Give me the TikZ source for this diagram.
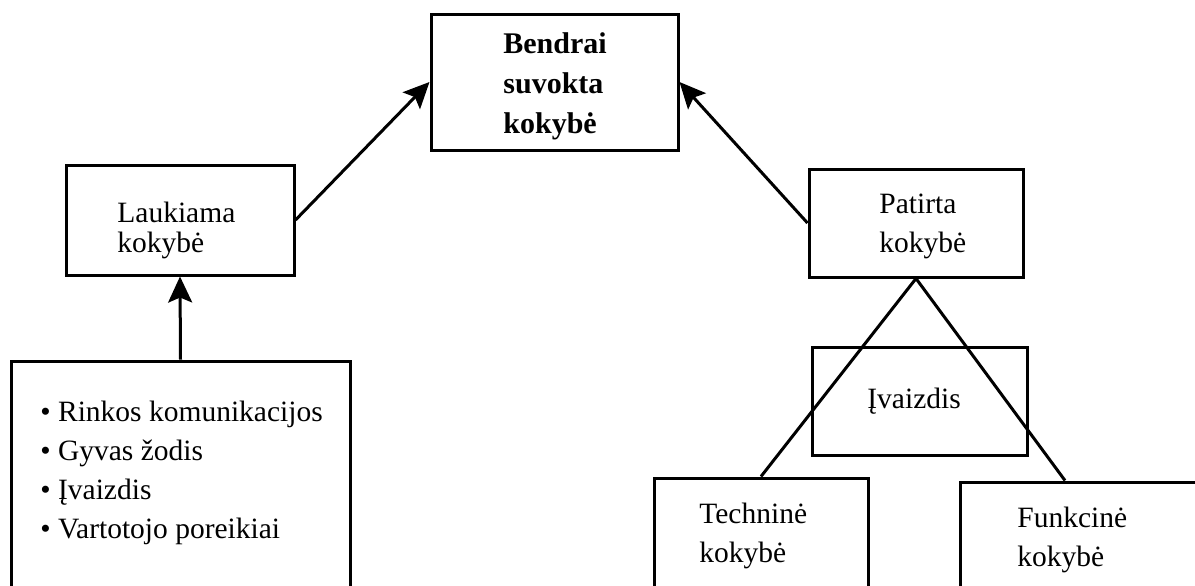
\documentclass[tikz,border=0pt]{standalone}
\usepackage{fontspec}
\setmainfont{Liberation Serif}
\usetikzlibrary{arrows.meta}
\begin{document}
\begin{tikzpicture}[x=0.5pt,y=-0.5pt,
  box/.style={draw, rectangle, line width=1.5pt, inner sep=0pt},
  lbl/.style={inner sep=0pt, anchor=base west, align=left, font=\fontsize{14.75}{19.5}\selectfont},
  conn/.style={line width=1.5pt},
  arr/.style={conn, -{Stealth[length=13pt,width=12pt,inset=2.5pt]}}]
\path[use as bounding box, clip] (0,0) rectangle (1195,585);

% perceived quality at the top (labels are placed by the baseline of their last line)
\node[box, minimum width=123.5pt, minimum height=68pt] (top) at (554.5,82) {};
\node[lbl, font=\bfseries\fontsize{15}{20}\selectfont] (toptxt) at (503,133) {Bendrai\\suvokta\\kokybė};

% expected quality and its sources
\node[box, minimum width=114pt, minimum height=55pt] (exp) at (180,220) {};
\node[lbl, font=\fontsize{14.75}{15}\selectfont] (exptxt) at (117,252) {Laukiama\\kokybė};

\node[box, minimum width=169.5pt, minimum height=129.5pt] (list) at (180.5,490.5) {};
\node[lbl] (listtxt) at (40,538) {\textbullet\ Rinkos komunikacijos\\\textbullet\ Gyvas žodis\\\textbullet\ Įvaizdis\\\textbullet\ Vartotojo poreikiai};

% experienced quality and its parts
\node[box, minimum width=107pt, minimum height=54pt] (perc) at (916,223) {};
\node[lbl] (perctxt) at (879,252) {Patirta\\kokybė};

\node[box, minimum width=107.5pt, minimum height=54pt] (img) at (919.5,401) {};
\node[lbl] (imgtxt) at (867,408) {Įvaizdis};

\node[box, minimum width=107pt, minimum height=71pt] (tech) at (761,549) {};
\node[lbl] (techtxt) at (699,562) {Techninė\\kokybė};

\node[box, minimum width=130pt, minimum height=69pt] (funk) at (1090,551) {};
\node[lbl] (funktxt) at (1017,566) {Funkcinė\\kokybė};

% connectors
\draw[arr] (list.north) -- (exp.south);
\draw[arr] (exp.east) -- (top.west);
\draw[arr] (perc.west) -- (top.east);
\draw[conn] (perc.south) -- (tech.north);
\draw[conn] (perc.south) -- ([xshift=-12.5pt]funk.north);
\end{tikzpicture}
\end{document}
